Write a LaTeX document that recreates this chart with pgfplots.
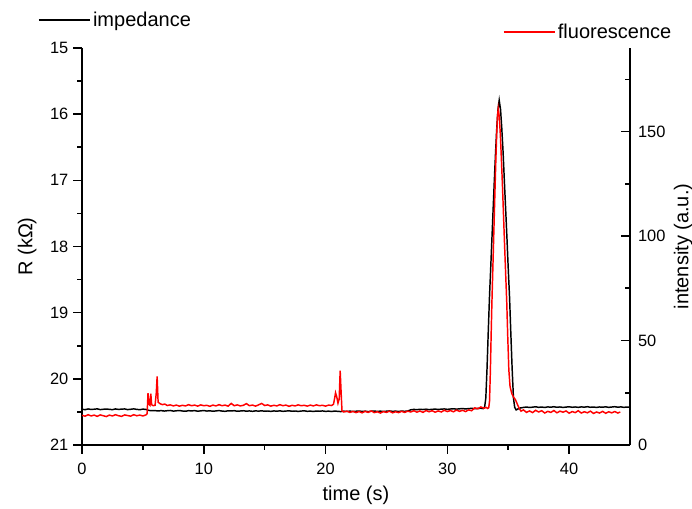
\documentclass[border=0pt]{standalone}
\usepackage{pgfplots}
\pgfplotsset{compat=1.18}
\usepackage{fontspec}
\setmainfont{Liberation Sans}

\pgfplotsset{
  common/.style={
    scale only axis, width=411pt, height=297.75pt,
    xmin=0, xmax=45,
    axis line style={-, line width=1.2pt, black},
    tick style={line width=1.2pt, black},
    major tick length=6.75pt, minor tick length=3.4pt,
    /pgf/number format/assume math mode=true,
    ticklabel style={font=\fontsize{12.3}{14}\selectfont},
    label style={font=\fontsize{15}{18}\selectfont},
    legend style={draw=none, fill=none, font=\fontsize{15}{18}\selectfont, inner sep=0pt},
    legend cell align=left,
    legend image code/.code={\draw[#1] (0pt,0pt) -- (33pt,0pt); \path (0pt,0pt) -- (38pt,0pt);},
  }
}

\begin{document}
\begin{tikzpicture}
\useasboundingbox (-61.5pt,-48pt) rectangle (457.5pt,333.75pt);
\begin{axis}[
  common,
  ymin=15, ymax=21, y dir=reverse,
  axis y line*=left, hide x axis,
  ytick={15,16,...,21}, minor y tick num=1,
  tick align=outside,
  ylabel={R (kΩ)},
  ylabel style={at={(axis description cs:-0.1,0.5)}, anchor=center, rotate=0},
  legend style={at={(axis description cs:-0.0803,1.0705)}, anchor=west},
]
\addplot[black, line width=1.1pt] table {
0.00 20.460
0.25 20.466
0.50 20.455
0.75 20.463
1.00 20.459
1.25 20.454
1.50 20.465
1.75 20.460
2.00 20.456
2.25 20.461
2.50 20.466
2.75 20.455
3.00 20.462
3.25 20.458
3.50 20.455
3.75 20.465
4.00 20.460
4.25 20.454
4.50 20.462
4.75 20.466
5.00 20.458
5.25 20.462
5.50 20.478
5.75 20.482
6.00 20.480
6.25 20.486
6.50 20.480
6.75 20.487
7.00 20.482
7.25 20.478
7.50 20.488
7.75 20.483
8.00 20.479
8.25 20.486
8.50 20.490
8.75 20.481
9.00 20.485
9.25 20.480
9.50 20.489
9.75 20.484
10.00 20.479
10.25 20.487
10.50 20.483
10.75 20.490
11.00 20.485
11.25 20.480
11.50 20.487
11.75 20.491
12.00 20.483
12.25 20.486
12.50 20.481
12.75 20.490
13.00 20.486
13.25 20.482
13.50 20.489
13.75 20.485
14.00 20.491
14.25 20.484
14.50 20.488
14.75 20.483
15.00 20.490
15.25 20.486
15.50 20.492
15.75 20.485
16.00 20.489
16.25 20.484
16.50 20.491
16.75 20.487
17.00 20.483
17.25 20.490
17.50 20.486
17.75 20.492
18.00 20.487
18.25 20.483
18.50 20.491
18.75 20.488
19.00 20.493
19.25 20.486
19.50 20.490
19.75 20.485
20.00 20.492
20.25 20.488
20.50 20.494
20.75 20.487
21.00 20.491
21.25 20.495
21.50 20.489
21.75 20.493
22.00 20.488
22.25 20.494
22.50 20.490
22.75 20.486
23.00 20.493
23.25 20.489
23.50 20.495
23.75 20.490
24.00 20.486
24.25 20.493
24.50 20.488
24.75 20.494
25.00 20.489
25.25 20.485
25.50 20.492
25.75 20.488
26.00 20.494
26.25 20.487
26.50 20.491
26.75 20.486
27.00 20.468
27.25 20.462
27.50 20.466
27.75 20.460
28.00 20.464
28.25 20.459
28.50 20.465
28.75 20.461
29.00 20.457
29.25 20.463
29.50 20.458
29.75 20.455
30.00 20.461
30.25 20.456
30.50 20.452
30.75 20.458
31.00 20.453
31.25 20.449
31.50 20.455
31.75 20.450
32.00 20.446
32.25 20.452
32.50 20.447
32.75 20.444
32.95 20.450
33.06 20.43
33.16 20.29
33.26 19.84
33.36 19.29
33.46 18.77
33.56 18.33
33.66 17.89
33.76 17.44
33.86 17.00
33.96 16.58
34.06 16.21
34.16 15.93
34.26 15.79
34.37 15.93
34.47 16.21
34.58 16.58
34.68 17.00
34.79 17.44
34.90 17.89
35.00 18.33
35.11 18.77
35.21 19.29
35.32 19.84
35.43 20.29
35.53 20.43
35.65 20.47
35.80 20.455
36.00 20.44
36.25 20.432
36.50 20.426
36.75 20.433
37.00 20.428
37.25 20.422
37.50 20.431
37.75 20.426
38.00 20.433
38.25 20.424
38.50 20.429
38.75 20.421
39.00 20.430
39.25 20.425
39.50 20.432
39.75 20.427
40.00 20.422
40.25 20.430
40.50 20.425
40.75 20.431
41.00 20.424
41.25 20.428
41.50 20.421
41.75 20.430
42.00 20.426
42.25 20.432
42.50 20.425
42.75 20.429
43.00 20.423
43.25 20.431
43.50 20.426
43.75 20.421
44.00 20.429
44.25 20.424
44.50 20.431
44.75 20.426
45.00 20.429
};
\addlegendentry{impedance}
\end{axis}

\begin{axis}[
  common,
  ymin=0, ymax=190,
  axis y line*=right, axis x line*=bottom,
  xtick={0,10,...,40}, minor x tick num=1,
  ytick={0,50,100,150}, minor ytick={25,75,125,175},
  xtick align=outside, ytick align=inside,
  yticklabel style={xshift=2.5pt},
  xticklabel style={yshift=-3pt},
  xlabel={time (s)},
  xlabel style={at={(axis description cs:0.5,-0.128)}, anchor=center},
  ylabel={intensity (a.u.)},
  ylabel style={at={(axis description cs:1.097,0.5)}, anchor=center, rotate=0},
  legend style={at={(axis description cs:0.768,1.040)}, anchor=west},
]
\addplot[red, line width=1.1pt] table {
0.00 14.2
0.25 13.8
0.50 14.5
0.75 13.9
1.00 14.3
1.25 13.7
1.50 14.4
1.75 14.0
2.00 13.6
2.25 14.3
2.50 13.9
2.75 14.5
3.00 14.0
3.25 13.7
3.50 14.4
3.75 14.1
4.00 13.8
4.25 14.5
4.50 14.0
4.75 14.3
5.00 13.9
5.25 14.4
5.35 15.0
5.42 24.8
5.50 19.5
5.58 19.0
5.65 24.6
5.72 19.3
5.85 18.8
6.00 19.0
6.10 25.0
6.17 32.8
6.25 20.5
6.40 19.8
6.60 19.3
6.80 19.6
7.00 18.9
7.25 19.2
7.50 18.7
7.75 19.1
8.00 18.6
8.25 19.0
8.50 18.7
8.75 19.3
9.00 18.8
9.25 19.1
9.50 18.6
9.75 19.2
10.00 18.8
10.25 19.0
10.50 18.5
10.75 19.1
11.00 18.7
11.25 19.3
11.50 18.8
11.75 19.1
12.00 18.6
12.25 19.9
12.50 18.8
12.75 19.2
13.00 18.7
13.25 19.0
13.50 19.8
13.75 18.8
14.00 19.1
14.25 18.6
14.50 19.2
14.75 19.9
15.00 18.9
15.25 19.2
15.50 18.6
15.75 19.0
16.00 18.7
16.25 19.3
16.50 18.8
16.75 19.1
17.00 18.5
17.25 19.0
17.50 18.7
17.75 19.2
18.00 18.8
18.25 19.0
18.50 18.6
18.75 19.1
19.00 18.7
19.25 19.2
19.50 18.8
19.75 19.0
20.00 18.6
20.25 19.1
20.50 18.9
20.65 19.5
20.75 22.5
20.82 25.0
20.92 23.0
21.02 20.0
21.12 22.0
21.20 35.6
21.28 25.0
21.35 16.3
21.50 15.8
21.75 16.2
22.00 15.6
22.25 16.1
22.50 15.5
22.75 16.0
23.00 15.4
23.25 16.1
23.50 15.6
23.75 16.3
24.00 15.5
24.25 15.9
24.50 15.3
24.75 16.0
25.00 15.6
25.25 16.2
25.50 15.4
25.75 15.9
26.00 15.5
26.25 16.1
26.50 15.6
26.75 16.2
27.00 15.8
27.25 16.4
27.50 15.7
27.75 16.3
28.00 15.6
28.25 16.5
28.50 15.9
28.75 16.4
29.00 15.7
29.25 16.3
29.50 15.8
29.75 16.6
30.00 16.0
30.25 16.5
30.50 15.9
30.75 16.7
31.00 16.1
31.25 16.6
31.50 16.0
31.75 16.8
32.00 16.4
32.25 17.8
32.50 17.3
32.75 18.2
33.00 17.6
33.20 18.0
33.30 17.5
33.40 17.8
33.465 21.0
33.53 34.5
33.595 52.0
33.66 68.1
33.725 81.9
33.79 95.8
33.855 109.7
33.92 123.5
33.985 136.7
34.05 148.4
34.115 157.1
34.18 161.0
34.267 157.1
34.354 148.4
34.44 136.7
34.53 123.5
34.615 109.7
34.70 95.8
34.79 81.9
34.88 68.1
34.96 52.0
35.05 36.0
35.15 28.0
35.30 24.5
35.45 22.8
35.60 21.6
35.75 19.5
35.90 17.5
36.05 16.2
36.25 16.8
36.50 15.6
36.75 16.3
37.00 15.5
37.25 16.6
37.50 15.8
37.75 16.4
38.00 15.3
38.25 16.1
38.50 15.6
38.75 16.5
39.00 15.4
39.25 16.2
39.50 15.7
39.75 16.3
40.00 15.2
40.25 16.0
40.50 15.5
40.75 16.4
41.00 15.3
41.25 15.9
41.50 15.4
41.75 16.2
42.00 15.1
42.25 15.8
42.50 15.3
42.75 16.1
43.00 15.2
43.25 15.9
43.50 15.4
43.75 16.0
44.00 15.3
44.20 15.8
};
\addlegendentry{fluorescence}
\end{axis}
\end{tikzpicture}
\end{document}
